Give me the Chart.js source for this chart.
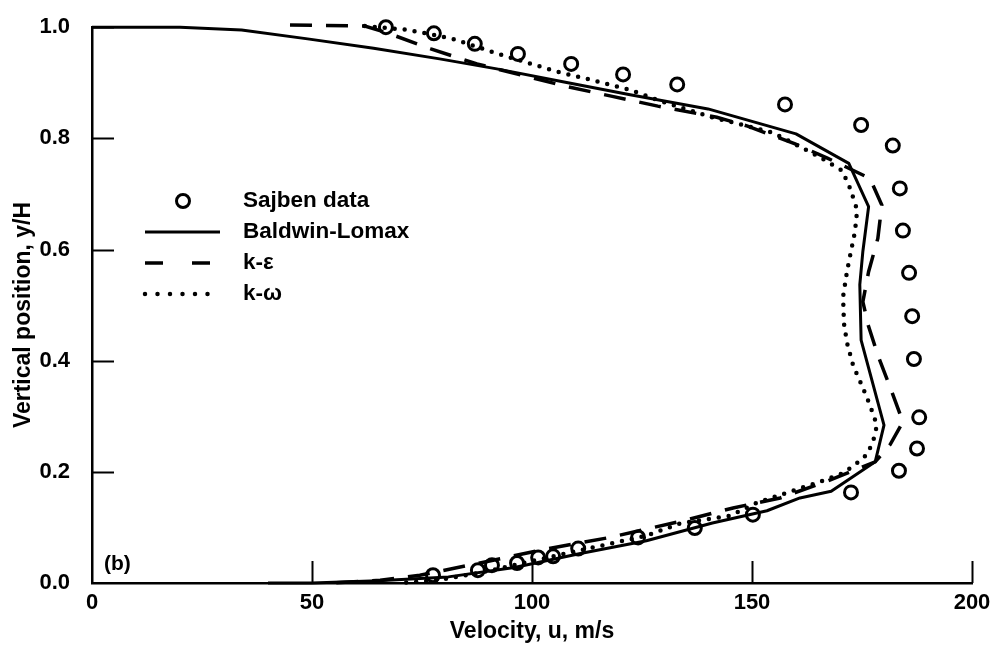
<!DOCTYPE html>
<html>
<head>
<meta charset="utf-8">
<script src="https://cdn.jsdelivr.net/npm/chart.js@4"></script>
<style>
  html, body { margin: 0; padding: 0; background: #fff; }
  #c { display: block; }
</style>
</head>
<body>
<canvas id="c" width="994" height="654"></canvas>
<script>
// ---------- data ----------
const seriesNames = ['Sajben data', 'Baldwin-Lomax', 'k-\u03B5', 'k-\u03C9'];

const sajbenU = [66.8, 77.7, 87.0, 96.8, 108.9, 120.7, 133.0, 157.5, 174.8, 182.0, 183.6, 184.3, 185.7, 186.4, 186.8, 188.0, 187.5, 183.4, 172.5, 150.2, 137.0, 124.1, 110.5, 104.8, 101.4, 96.6, 90.9, 87.7, 77.5];
const sajbenY = [1.000, 0.989, 0.970, 0.952, 0.934, 0.915, 0.897, 0.861, 0.824, 0.787, 0.710, 0.634, 0.558, 0.480, 0.403, 0.298, 0.242, 0.202, 0.163, 0.123, 0.099, 0.082, 0.062, 0.048, 0.046, 0.036, 0.032, 0.023, 0.014];

const blU = [0, 20, 34, 49, 64, 79, 92, 107, 122, 140, 160, 172, 176.5, 175.2, 174.5, 174.8, 180, 178, 168, 160.9, 153.4, 141, 126, 111, 96, 81, 65, 50, 40];
const blY = [1.000, 1.000, 0.995, 0.979, 0.962, 0.943, 0.925, 0.902, 0.879, 0.853, 0.808, 0.755, 0.677, 0.597, 0.537, 0.437, 0.284, 0.218, 0.165, 0.153, 0.130, 0.108, 0.076, 0.053, 0.028, 0.011, 0.004, 0.000, 0.000];

const keU = [45, 62, 67, 77, 87.5, 98, 108, 118, 128.6, 142, 149, 159.8, 167, 176.8, 179.5, 178.6, 176.5, 175.2, 176.4, 178.6, 181.4, 184.3, 181.4, 178, 167, 156.4, 145.7, 134.3, 117.7, 101.8, 88.2, 74.5, 65.5, 55];
const keY = [1.004, 1.002, 0.990, 0.961, 0.934, 0.913, 0.893, 0.876, 0.858, 0.838, 0.822, 0.790, 0.765, 0.728, 0.680, 0.620, 0.560, 0.506, 0.464, 0.410, 0.352, 0.290, 0.249, 0.218, 0.183, 0.153, 0.135, 0.112, 0.082, 0.059, 0.036, 0.014, 0.005, 0.000];

const kwU = [62, 72, 82, 92.3, 105.7, 113, 122, 130, 140, 154.8, 164.8, 170.5, 172.3, 173.9, 173.4, 172.5, 171.6, 170.7, 170.9, 171.6, 173, 175, 176.8, 178.4, 177.5, 176.1, 173, 170, 163.9, 157, 151, 145, 133.6, 126, 111, 98, 88, 78.4, 70];
const kwY = [1.002, 0.995, 0.979, 0.952, 0.920, 0.906, 0.888, 0.865, 0.840, 0.810, 0.769, 0.742, 0.710, 0.671, 0.632, 0.597, 0.561, 0.515, 0.467, 0.432, 0.391, 0.355, 0.320, 0.284, 0.254, 0.231, 0.210, 0.195, 0.178, 0.160, 0.144, 0.121, 0.107, 0.085, 0.059, 0.036, 0.018, 0.005, 0.000];

const xTickValues = [0, 50, 100, 150, 200];
const xTickLabels = ['0', '50', '100', '150', '200'];
const yTickValues = [0, 0.2, 0.4, 0.6, 0.8, 1.0];
const yTickLabels = ['0.0', '0.2', '0.4', '0.6', '0.8', '1.0'];

const xTitle = 'Velocity, u, m/s';
const yTitle = 'Vertical position, y/H';
const panelLabel = '(b)';

// ---------- helpers ----------
const pts = (xs, ys) => xs.map((x, i) => ({ x: x, y: ys[i] }));
const FONT = '"Liberation Sans", Arial, Helvetica, sans-serif';
const INK = '#000';

// inward tick marks, legend, y-axis title and panel label
const decorPlugin = {
  id: 'decor',
  afterDraw(chart) {
    const ctx = chart.ctx;
    const xs = chart.scales.x, ys = chart.scales.y;
    const area = chart.chartArea;
    ctx.save();
    ctx.strokeStyle = INK;
    ctx.lineWidth = 2;
    ctx.lineCap = 'butt';
    xTickValues.forEach(v => {
      if (v === 0) return;
      const px = Math.round(xs.getPixelForValue(v)) + 0.5;
      ctx.beginPath();
      ctx.moveTo(px, area.bottom);
      ctx.lineTo(px, area.bottom - 22);
      ctx.stroke();
    });
    yTickValues.forEach(v => {
      if (v === 0) return;
      const py = Math.round(ys.getPixelForValue(v)) + 0.5;
      ctx.beginPath();
      ctx.moveTo(area.left, py);
      ctx.lineTo(area.left + 22, py);
      ctx.stroke();
    });

    // legend
    const rows = [201, 232, 263, 294];
    const legDash = [null, [], [18, 29], [0, 12.5]];
    chart.data.datasets.forEach((ds, i) => {
      const y = rows[i];
      ctx.save();
      ctx.strokeStyle = INK;
      if (ds.showLine === false) {
        ctx.lineWidth = ds.pointBorderWidth;
        ctx.beginPath();
        ctx.arc(183, y, ds.pointRadius, 0, Math.PI * 2);
        ctx.stroke();
      } else {
        ctx.lineWidth = ds.borderWidth;
        ctx.lineCap = ds.borderCapStyle || 'butt';
        ctx.setLineDash(legDash[i]);
        ctx.beginPath();
        ctx.moveTo(145, y);
        ctx.lineTo(220, y);
        ctx.stroke();
      }
      ctx.restore();
      ctx.fillStyle = INK;
      ctx.font = 'bold 22.5px ' + FONT;
      ctx.textAlign = 'left';
      ctx.textBaseline = 'middle';
      ctx.fillText(ds.label, 243, y);
    });

    // panel label
    ctx.fillStyle = INK;
    ctx.font = 'bold 21px ' + FONT;
    ctx.textAlign = 'left';
    ctx.textBaseline = 'middle';
    ctx.fillText(panelLabel, 104, 564);

    // y-axis title
    ctx.save();
    ctx.translate(24, 315);
    ctx.rotate(-Math.PI / 2);
    ctx.font = 'bold 23px ' + FONT;
    ctx.textAlign = 'center';
    ctx.textBaseline = 'middle';
    ctx.fillText(yTitle, 0, 0);
    ctx.restore();
    ctx.restore();
  }
};

new Chart(document.getElementById('c'), {
  type: 'scatter',
  data: {
    datasets: [
      {
        label: seriesNames[0],
        data: pts(sajbenU, sajbenY),
        showLine: false,
        pointStyle: 'circle',
        pointRadius: 6.5,
        pointBorderWidth: 3,
        pointBorderColor: INK,
        pointBackgroundColor: 'rgba(0,0,0,0)',
        borderColor: INK,
        clip: false,
        order: 0
      },
      {
        label: seriesNames[1],
        data: pts(blU, blY),
        showLine: true,
        pointRadius: 0,
        borderColor: INK,
        borderWidth: 3,
        tension: 0,
        borderJoinStyle: 'round',
        clip: false,
        order: 1
      },
      {
        label: seriesNames[2],
        data: pts(keU, keY),
        showLine: true,
        pointRadius: 0,
        borderColor: INK,
        borderWidth: 3.5,
        borderDash: [22, 14],
        tension: 0,
        clip: false,
        order: 2
      },
      {
        label: seriesNames[3],
        data: pts(kwU, kwY),
        showLine: true,
        pointRadius: 0,
        borderColor: INK,
        borderWidth: 4.5,
        borderDash: [0, 10],
        borderCapStyle: 'round',
        tension: 0,
        clip: false,
        order: 3
      }
    ]
  },
  options: {
    responsive: false,
    animation: false,
    events: [],
    layout: { padding: { left: 0, right: 22, top: 20, bottom: 0 } },
    plugins: {
      legend: { display: false },
      tooltip: { enabled: false },
      title: { display: false }
    },
    scales: {
      x: {
        type: 'linear',
        min: 0, max: 200,
        afterFit(scale) { scale.height = 71; },
        afterBuildTicks(scale) { scale.ticks = xTickValues.map(v => ({ value: v })); },
        grid: { display: false },
        border: { display: true, color: INK, width: 2.5 },
        ticks: {
          color: INK,
          font: { family: FONT, size: 22, weight: 'bold' },
          padding: -1,
          maxRotation: 0,
          callback: (v) => { const i = xTickValues.indexOf(v); return i >= 0 ? xTickLabels[i] : ''; }
        },
        title: {
          display: true,
          text: xTitle,
          color: INK,
          font: { family: FONT, size: 23, weight: 'bold' },
          padding: { top: 0, bottom: 9 }
        }
      },
      y: {
        type: 'linear',
        min: 0, max: 1.0,
        afterFit(scale) { scale.width = 92; },
        afterBuildTicks(scale) { scale.ticks = yTickValues.map(v => ({ value: v })); },
        grid: { display: false },
        border: { display: true, color: INK, width: 2.5 },
        ticks: {
          color: INK,
          font: { family: FONT, size: 22, weight: 'bold' },
          padding: 14,
          callback: (v) => { const i = yTickValues.findIndex(t => Math.abs(t - v) < 1e-9); return i >= 0 ? yTickLabels[i] : ''; }
        },
        title: { display: false }
      }
    }
  },
  plugins: [decorPlugin]
});
</script>
</body>
</html>
